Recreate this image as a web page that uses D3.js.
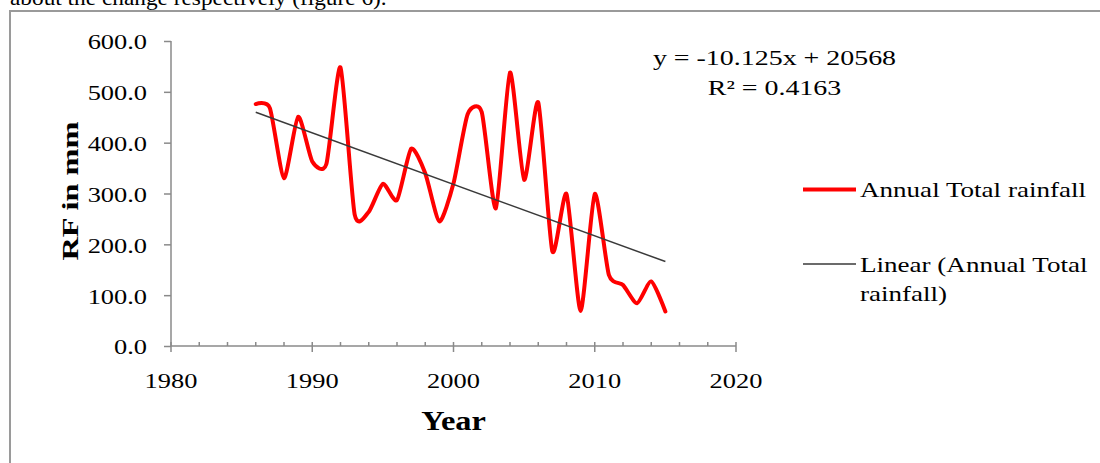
<!DOCTYPE html>
<html>
<head>
<meta charset="utf-8">
<script src="https://cdn.jsdelivr.net/npm/d3@7"></script>
<style>
  html, body { margin: 0; padding: 0; background: #fff; }
  svg { display: block; }
  text { font-family: "Liberation Serif", "Times New Roman", serif; fill: #000; }
</style>
</head>
<body>
<svg id="chart" width="1100" height="463"></svg>
<script>
// Annual total rainfall (mm), 1986–2015
const years = [1986, 1987, 1988, 1989, 1990, 1991, 1992, 1993, 1994, 1995,
               1996, 1997, 1998, 1999, 2000, 2001, 2002, 2003, 2004, 2005,
               2006, 2007, 2008, 2009, 2010, 2011, 2012, 2013, 2014, 2015];
const rainfall = [476, 468, 330, 451, 363, 358, 548, 259, 264, 319,
                  287, 388, 340, 245, 320, 456, 460, 271, 538, 327,
                  479, 186, 299, 69, 299, 140, 120, 84, 127, 68];

// Linear trend fitted to the series
const trendSlope = -10.125;
const trendIntercept = 20568;
const trendR2 = 0.4163;

const xTicks = [1980, 1990, 2000, 2010, 2020];
const xMinorTicks = [1982, 1984, 1986, 1988, 1992, 1994, 1996, 1998,
                     2002, 2004, 2006, 2008, 2012, 2014, 2016, 2018];
const yTicks = [0, 100, 200, 300, 400, 500, 600];

const seriesName = "Annual Total rainfall";
const trendNameLines = ["Linear (Annual Total", "rainfall)"];

const SX = 1.2;           // horizontal widening of the serif type
const AXIS = "#8a8a8a";

const svg = d3.select("#chart");

function label(parent, x, y, str, opts = {}) {
  const g = parent.append("g")
    .attr("transform", `translate(${x},${y})` + (opts.rotate ? ` rotate(${opts.rotate})` : ""));
  const t = g.append("text")
    .attr("transform", `scale(${opts.sx || SX},1)`)
    .attr("text-anchor", opts.anchor || "start")
    .attr("font-size", opts.size || 22)
    .attr("font-weight", opts.weight || "normal")
    .text(str);
  return t;
}

// page text above the figure and the figure frame
label(svg, 10, 5, "about the change respectively (figure 6).", { size: 22, sx: 1.06 });

svg.append("path")
  .attr("d", "M10,463 L10,11 L1100,11")
  .attr("fill", "none")
  .attr("stroke", "#9a9a9a")
  .attr("stroke-width", 2);

const x = d3.scaleLinear().domain([1980, 2020]).range([171, 736]);
const y = d3.scaleLinear().domain([0, 600]).range([346, 41]);

// y axis
const yAxis = svg.append("g")
  .attr("transform", `translate(${x(1980)},0)`)
  .call(d3.axisLeft(y).tickValues(yTicks).tickSize(7).tickPadding(0)
        .tickFormat(d3.format(".1f")));
yAxis.select(".domain").attr("stroke", AXIS).attr("stroke-width", 1.5)
  .attr("d", `M0,${y(600)}V${y(0)}`);
yAxis.selectAll(".tick line").attr("stroke", AXIS).attr("stroke-width", 1.5);
yAxis.selectAll(".tick text")
  .attr("font-size", 22)
  .attr("fill", "#000")
  .attr("x", -24 / SX)
  .attr("dy", "0.36em")
  .attr("transform", `scale(${SX},1)`);

// x axis: major ticks cross the line, minor ticks point up
const xAxisG = svg.append("g").attr("transform", `translate(0,${y(0)})`);
xAxisG.append("line")
  .attr("x1", x(1980)).attr("x2", x(2020))
  .attr("stroke", AXIS).attr("stroke-width", 1.5);
xAxisG.selectAll("line.minor").data(xMinorTicks).join("line")
  .attr("class", "minor")
  .attr("x1", d => x(d)).attr("x2", d => x(d))
  .attr("y1", -4).attr("y2", 0)
  .attr("stroke", AXIS).attr("stroke-width", 1.5);
const xMajor = xAxisG.selectAll("g.major").data(xTicks).join("g")
  .attr("class", "major")
  .attr("transform", d => `translate(${x(d)},0)`);
xMajor.append("line")
  .attr("y1", -4).attr("y2", 6)
  .attr("stroke", AXIS).attr("stroke-width", 1.5);
xMajor.append("text")
  .attr("transform", `scale(${SX},1)`)
  .attr("text-anchor", "middle")
  .attr("font-size", 22)
  .attr("y", 42)
  .text(d => d);

// axis titles
label(svg, 78, 191, "RF in mm",
      { rotate: -90, anchor: "middle", size: 24, weight: "bold", sx: 1.35 });
label(svg, (x(1980) + x(2020)) / 2, 430, "Year",
      { anchor: "middle", size: 27, weight: "bold" });

// rainfall series, smoothed
const line = d3.line()
  .x((d, i) => x(years[i]))
  .y(d => y(d))
  .curve(d3.curveCardinal.tension(0.35));
svg.append("path")
  .datum(rainfall)
  .attr("d", line)
  .attr("fill", "none")
  .attr("stroke", "#ff0000")
  .attr("stroke-width", 4)
  .attr("stroke-linejoin", "round")
  .attr("stroke-linecap", "round");

// linear trend line
const x0 = d3.min(years), x1 = d3.max(years);
svg.append("line")
  .attr("x1", x(x0)).attr("y1", y(trendSlope * x0 + trendIntercept))
  .attr("x2", x(x1)).attr("y2", y(trendSlope * x1 + trendIntercept))
  .attr("stroke", "#3a3a3a")
  .attr("stroke-width", 1.5);

// trend equation
label(svg, 774.5, 65,
      `y = ${trendSlope}x + ${trendIntercept}`, { anchor: "middle", size: 22, sx: 1.27 });
label(svg, 774.5, 94.5,
      `R² = ${trendR2}`, { anchor: "middle", size: 22, sx: 1.27 });

// legend
const legend = svg.append("g");
legend.append("line")
  .attr("x1", 803).attr("x2", 856).attr("y1", 189.5).attr("y2", 189.5)
  .attr("stroke", "#ff0000").attr("stroke-width", 4);
label(legend, 860, 196.5, seriesName, { size: 22, sx: 1.23 });
legend.append("line")
  .attr("x1", 803).attr("x2", 856).attr("y1", 264).attr("y2", 264)
  .attr("stroke", "#3a3a3a").attr("stroke-width", 1.5);
trendNameLines.forEach((s, i) => label(legend, 860, 271.5 + i * 29, s, { size: 22, sx: 1.23 }));
</script>
</body>
</html>
